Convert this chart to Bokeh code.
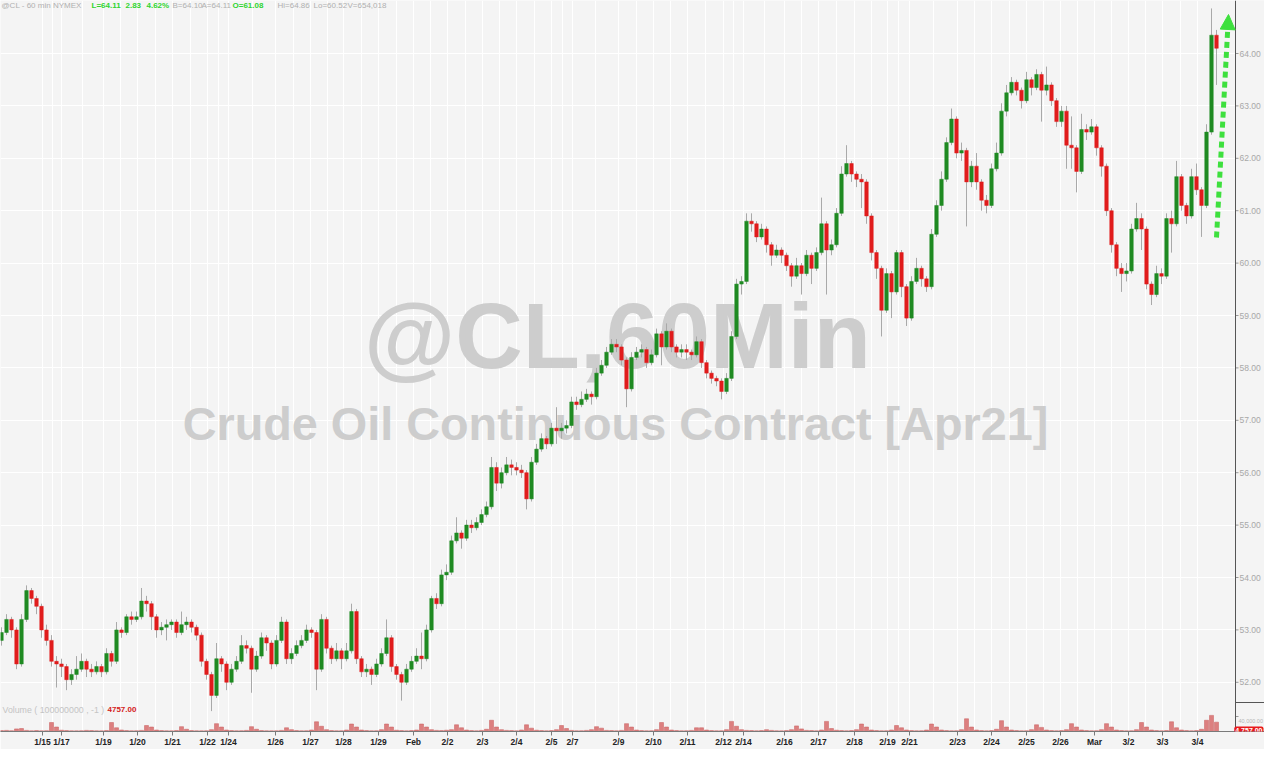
from bokeh.plotting import figure
from bokeh.models import (ColumnDataSource, Range1d, FixedTicker, CustomJSTickFormatter,
                          Label, Arrow, NormalHead, Span)
from bokeh.core.properties import value
from bokeh.embed import file_html
from bokeh.resources import INLINE

# ---------------- data ----------------
first_open = 52.8
close = [
    52.95, 53.2, 53.0, 52.35, 53.2, 53.75, 53.6, 53.45, 53.0, 52.8,
    52.4, 52.35, 52.3, 52.05, 52.15, 52.25, 52.4, 52.25, 52.2, 52.3,
    52.2, 52.55, 52.4, 53.0, 52.95, 53.25, 53.2, 53.25, 53.55, 53.5,
    53.25, 53.0, 53.05, 53.1, 53.15, 52.95, 53.1, 53.15, 53.05, 52.9,
    52.4, 52.15, 51.75, 52.45, 52.35, 52.0, 52.25, 52.4, 52.7, 52.65,
    52.25, 52.5, 52.85, 52.75, 52.35, 52.8, 53.15, 52.45, 52.55, 52.7,
    52.8, 53.0, 52.95, 52.25, 53.2, 52.65, 52.45, 52.6, 52.45, 52.6,
    53.35, 52.45, 52.2, 52.25, 52.15, 52.35, 52.55, 52.85, 52.3, 52.15,
    52.0, 52.25, 52.4, 52.5, 52.45, 53.0, 53.6, 53.5, 54.05, 54.1,
    54.7, 54.85, 54.75, 55.0, 54.95, 55.05, 55.2, 55.35, 56.1, 55.8,
    56.0, 56.15, 56.1, 56.05, 56.0, 55.5, 56.2, 56.45, 56.65, 56.55,
    56.85, 56.8, 56.85, 56.9, 57.35, 57.3, 57.4, 57.5, 57.45, 57.9,
    58.05, 58.3, 58.45, 58.4, 58.15, 57.6, 58.2, 58.3, 58.35, 58.1,
    58.25, 58.65, 58.4, 58.7, 58.4, 58.3, 58.35, 58.3, 58.25, 58.5,
    58.1, 57.9, 57.8, 57.75, 57.55, 57.8, 58.6, 59.6, 59.65, 60.8,
    60.75, 60.5, 60.65, 60.35, 60.15, 60.25, 60.15, 59.95, 59.75, 59.95,
    59.8, 60.15, 59.9, 60.2, 60.75, 60.25, 60.35, 60.95, 61.7, 61.9,
    61.7, 61.6, 61.55, 60.9, 60.2, 59.9, 59.1, 59.8, 59.45, 60.2,
    59.55, 58.95, 59.65, 59.9, 59.7, 59.55, 60.55, 61.1, 61.6, 62.3,
    62.75, 62.1, 62.15, 61.55, 61.85, 61.55, 61.2, 61.1, 61.8, 62.1,
    62.9, 63.25, 63.45, 63.3, 63.1, 63.5, 63.35, 63.6, 63.3, 63.4,
    63.1, 62.7, 62.9, 62.25, 62.2, 61.75, 62.55, 62.5, 62.6, 62.2,
    61.85, 61.0, 60.35, 59.9, 59.8, 59.85, 60.65, 60.85, 60.65, 59.6,
    59.4, 59.8, 59.75, 60.85, 60.75, 61.65, 61.1, 60.9, 61.65, 61.4,
    61.1, 62.5, 64.35, 64.1,
]
high = [
    53.05, 53.3, 53.25, 53.05, 53.3, 53.85, 53.8, 53.65, 53.5, 53.1,
    52.9, 52.5, 52.45, 52.35, 52.25, 52.5, 52.55, 52.45, 52.35, 52.4,
    52.35, 52.65, 52.6, 53.15, 53.05, 53.3, 53.35, 53.35, 53.8, 53.65,
    53.55, 53.3, 53.15, 53.2, 53.2, 53.2, 53.35, 53.25, 53.2, 53.1,
    52.95, 52.45, 52.2, 52.75, 52.5, 52.4, 52.35, 52.5, 52.9, 52.8,
    52.7, 52.6, 52.95, 52.9, 52.8, 52.9, 53.25, 53.2, 52.65, 52.8,
    52.9, 53.1, 53.05, 53.0, 53.3, 53.25, 52.7, 52.75, 52.65, 52.75,
    53.5, 53.4, 52.5, 52.35, 52.3, 52.45, 52.65, 53.2, 52.9, 52.35,
    52.2, 52.35, 52.5, 52.65, 52.95, 53.1, 53.65, 53.7, 54.15, 54.25,
    54.8, 55.15, 54.9, 55.1, 55.1, 55.15, 55.3, 55.45, 56.3, 56.2,
    56.1, 56.3, 56.25, 56.2, 56.15, 56.05, 56.3, 56.55, 56.75, 56.7,
    56.95, 57.25, 56.95, 57.0, 57.45, 57.45, 57.55, 57.6, 57.55, 58.0,
    58.15, 58.4, 58.55, 58.55, 58.45, 58.2, 58.3, 58.4, 58.45, 58.4,
    58.35, 58.75, 58.7, 58.85, 58.75, 58.45, 58.45, 58.45, 58.35, 58.6,
    58.55, 58.15, 57.95, 57.85, 57.8, 57.9, 58.7, 59.7, 59.75, 60.95,
    60.95, 60.8, 60.75, 60.7, 60.4, 60.35, 60.3, 60.2, 60.0, 60.1,
    60.0, 60.25, 60.2, 60.3, 61.25, 60.8, 60.45, 61.05, 61.85, 62.25,
    61.95, 61.75, 61.7, 61.6, 60.95, 60.25, 59.95, 59.9, 59.85, 60.25,
    60.25, 59.6, 59.75, 60.1, 59.95, 59.75, 60.65, 61.2, 61.75, 62.4,
    62.95, 62.8, 62.3, 62.2, 61.95, 62.1, 61.6, 61.3, 61.9, 62.3,
    63.05, 63.4, 63.55, 63.5, 63.35, 63.65, 63.55, 63.7, 63.65, 63.75,
    63.45, 63.15, 63.0, 63.0, 62.8, 62.25, 62.85, 62.65, 62.75, 62.65,
    62.25, 61.9, 61.05, 60.4, 60.0, 60.0, 60.75, 61.15, 60.95, 60.7,
    59.65, 59.95, 59.9, 60.95, 61.0, 61.95, 61.7, 61.15, 61.8, 61.9,
    61.45, 62.65, 64.86, 64.45,
]
low = [
    52.7, 52.9, 52.85, 52.25, 52.3, 53.15, 53.5, 53.3, 52.85, 52.7,
    52.3, 51.9, 52.1, 51.85, 51.95, 52.05, 52.2, 52.1, 52.1, 52.15,
    52.1, 52.15, 52.3, 52.35, 52.85, 52.9, 53.1, 53.15, 53.2, 53.35,
    53.0, 52.85, 52.9, 52.8, 53.0, 52.85, 52.9, 53.0, 52.95, 52.8,
    52.3, 52.05, 51.45, 51.7, 52.2, 51.85, 51.95, 52.2, 52.35, 52.55,
    51.8, 52.2, 52.45, 52.6, 52.25, 52.3, 52.75, 52.35, 52.35, 52.5,
    52.65, 52.75, 52.85, 51.85, 52.2, 52.55, 52.35, 52.4, 52.25, 52.4,
    52.55, 52.35, 52.1, 52.1, 51.95, 52.1, 52.3, 52.5, 52.2, 52.05,
    51.65, 51.95, 52.2, 52.35, 52.25, 52.4, 52.95, 53.4, 53.45, 53.95,
    54.05, 54.65, 54.55, 54.7, 54.85, 54.9, 55.0, 55.15, 55.3, 55.65,
    55.7, 55.95, 55.95, 55.95, 55.9, 55.3, 55.45, 56.15, 56.4, 56.45,
    56.5, 56.55, 56.65, 56.75, 56.85, 57.2, 57.25, 57.35, 57.3, 57.4,
    57.85, 58.0, 58.25, 58.3, 58.05, 57.25, 57.55, 58.15, 58.2, 58.0,
    58.05, 58.2, 58.05, 58.35, 58.3, 58.2, 58.2, 58.15, 58.15, 58.2,
    58.0, 57.8, 57.7, 57.65, 57.4, 57.5, 57.75, 58.55, 59.4, 59.6,
    60.6, 60.4, 60.45, 60.2, 59.95, 60.1, 60.0, 59.85, 59.55, 59.7,
    59.4, 59.75, 59.6, 59.85, 60.15, 59.4, 60.15, 60.3, 60.9, 61.65,
    61.55, 61.45, 61.05, 60.75, 60.05, 59.7, 58.6, 59.05, 58.95, 59.4,
    59.35, 58.8, 58.9, 59.6, 59.55, 59.45, 59.5, 60.5, 61.0, 61.55,
    62.25, 62.0, 61.95, 60.7, 61.45, 61.4, 61.0, 60.95, 61.05, 61.75,
    62.05, 62.8, 63.2, 63.2, 62.95, 63.05, 63.2, 63.3, 62.7, 63.2,
    63.0, 62.6, 62.6, 61.8, 61.8, 61.35, 61.7, 62.35, 62.45, 62.05,
    61.65, 60.9, 60.2, 59.75, 59.45, 59.65, 59.8, 60.6, 60.25, 59.5,
    59.2, 59.35, 59.6, 59.7, 60.2, 60.7, 61.0, 60.75, 60.85, 61.3,
    60.5, 61.05, 62.45, 63.4,
]
volume = [
    2500, 3000, 2200, 7000, 8000, 3000, 2000, 2500, 1800, 2200,
    24000, 12000, 3500, 2500, 2000, 1800, 2200, 3000, 2500, 2000,
    1800, 2500, 24000, 10000, 4000, 2500, 2000, 2200, 3000, 16000,
    12000, 4000, 2500, 2000, 1800, 2500, 13000, 6000, 2500, 2000,
    1800, 2200, 5000, 21000, 12000, 4000, 2500, 2000, 2200, 3000,
    13000, 6000, 2500, 2000, 1800, 2000, 3000, 10000, 5000, 2500,
    2000, 2200, 4000, 26000, 14000, 5000, 2500, 2000, 2200, 4000,
    20000, 12000, 4000, 2500, 2000, 2200, 5000, 20000, 12000, 3500,
    2500, 2000, 2500, 4000, 20000, 12000, 5000, 3000, 2500, 3500,
    5000, 18000, 10000, 4000, 2500, 2000, 3000, 6000, 30000, 12000,
    5000, 3000, 2500, 2000, 4000, 18000, 9000, 3500, 2500, 2000,
    2500, 5000, 16000, 8000, 3000, 2000, 2200, 3000, 5000, 13000,
    9000, 3000, 2500, 2000, 3000, 21000, 12000, 4000, 2500, 2000,
    2200, 5000, 24000, 12000, 4000, 2500, 2000, 2200, 3000, 10000,
    10000, 4000, 2500, 2000, 2200, 5000, 27000, 14000, 5000, 3000,
    2500, 2000, 2500, 5000, 3000, 2000, 1800, 2500, 5000, 15000,
    7000, 3000, 2500, 2000, 4000, 27000, 8000, 3500, 2500, 2000,
    2500, 5000, 20000, 12000, 4000, 2500, 2000, 2200, 4000, 16000,
    10000, 4000, 2500, 2000, 2200, 4000, 20000, 12000, 4000, 2500,
    2000, 2200, 5000, 34000, 12000, 4000, 2500, 2000, 2500, 6000,
    29000, 12000, 4000, 2500, 2000, 2200, 5000, 18000, 11000, 4000,
    2500, 2000, 2500, 5000, 21000, 12000, 4000, 2500, 2000, 2200,
    5000, 21000, 12000, 4000, 2500, 2000, 2200, 5000, 24000, 12000,
    4000, 2500, 2000, 2500, 26000, 10000, 4000, 2500, 2000, 2500,
    6000, 30000, 43000, 25000,
]
tick_labels = ["1/15", "1/17", "1/19", "1/20", "1/21", "1/22", "1/24", "1/26", "1/27", "1/28",
               "1/29", "Feb", "2/2", "2/3", "2/4", "2/5", "2/7", "2/9", "2/10", "2/11",
               "2/12", "2/14", "2/16", "2/17", "2/18", "2/19", "2/21", "2/23", "2/24", "2/25",
               "2/26", "Mar", "3/2", "3/3", "3/4"]
tick_at = [8.2, 12.0, 20.4, 27.2, 34.2, 41.2, 45.4, 54.8, 61.8, 68.4,
           75.4, 82.4, 89.2, 96.2, 103.0, 110.0, 114.2, 123.4, 130.4, 137.2,
           144.4, 148.4, 156.6, 163.4, 170.6, 177.2, 181.6, 191.2, 198.0, 205.0,
           211.8, 218.6, 225.4, 232.2, 239.2]
price_ticks = [52, 53, 54, 55, 56, 57, 58, 59, 60, 61, 62, 63, 64]

# ---------------- derived ----------------
n = len(close)
opens = [first_open] + close[:-1]
xs = list(range(n))
body_top = [max(o, c) for o, c in zip(opens, close)]
body_bot = [min(o, c) for o, c in zip(opens, close)]
colors = ["#1f8a22" if c >= o else "#e01c1c" for o, c in zip(opens, close)]
src = ColumnDataSource(dict(x=xs, h=high, l=low, top=body_top, bot=body_bot,
                            color=colors, v=volume))


def X(rx):  # layout pixel -> bar index
    return (rx - 1) / 5.0


def Y(ry):  # layout pixel -> price
    return 64.0 - (ry - 53) / 52.4


FONT = "Liberation Sans"
BG = "#f4f4f4"
W, H = 1264, 731        # frame size (x axis goes below)
AX = 1235               # position of the price scale line

p = figure(frame_width=W, frame_height=H,
           x_range=Range1d(X(0), X(W)), y_range=Range1d(Y(H), Y(0)),
           y_axis_location=None, output_backend="svg", toolbar_location=None,
           min_border_left=0, min_border_top=0, min_border_right=0, min_border_bottom=0,
           background_fill_color=BG, border_fill_color=BG)
p.outline_line_color = None
p.extra_y_ranges = {"vol": Range1d(0, 40000 * H / 15)}

# watermark
p.add_layout(Label(x=X(617), y=Y(335), text="@CL,60Min", text_align="center",
                   text_baseline="middle", text_font=FONT, text_font_size="93.5px",
                   text_font_style="bold", text_color="#cdcdcd", level="underlay"))
p.add_layout(Label(x=X(615), y=Y(423), text="Crude Oil Continuous Contract [Apr21]",
                   text_align="center", text_baseline="middle", text_font=FONT,
                   text_font_size="46.8px", text_font_style="bold", text_color="#cdcdcd",
                   level="underlay"))

# price-scale strip on the right
p.quad(left=X(AX), right=X(W), bottom=Y(H), top=Y(0), fill_color=BG, line_color=None)

# volume
p.vbar(x="x", width=0.8, top="v", bottom=0, y_range_name="vol", source=src,
       fill_color="#dc7f7f", line_color="#c95c5c", line_width=0.5)

# candles
p.segment(x0="x", y0="h", x1="x", y1="l", source=src, line_color="#a9a9a9", line_width=1)
p.vbar(x="x", width=0.7, top="top", bottom="bot", source=src,
       fill_color="color", line_color="color", line_width=0.5)

# price scale (drawn on the right)
psrc = ColumnDataSource(dict(y=price_ticks, txt=["%.2f" % t for t in price_ticks]))
p.add_layout(Span(location=X(AX), dimension="height", line_color="#555555", line_width=1))
p.segment(x0=X(AX), x1=X(AX + 3), y0="y", y1="y", source=psrc, line_color="#999999")
p.text(x=X(AX + 4), y="y", text="txt", source=psrc, text_font=value(FONT),
       text_font_size="8.5px", text_color="#a8a8a8", text_baseline="middle", text_align="left")
p.segment(x0=[X(AX)], x1=[X(W)], y0=[Y(702)], y1=[Y(702)], line_color="#555555")
p.segment(x0=[X(AX)], x1=[X(AX + 3)], y0=[Y(716)], y1=[Y(716)], line_color="#999999")
p.text(x=[X(AX + 3)], y=[Y(720)], text=["40,000.00"], text_font=value(FONT),
       text_font_size="5.5px", text_color="#b5b5b5", text_baseline="middle", text_align="left")
p.add_layout(Label(x=X(W - 1), y=Y(729.5), text="4,757.00", text_align="right",
                   text_baseline="middle", text_font=FONT, text_font_size="7px",
                   text_font_style="bold", text_color="#ffffff",
                   background_fill_color="#e8191c", padding=1, border_radius=2))

# x axis
p.xaxis.ticker = FixedTicker(ticks=tick_at)
p.xaxis.formatter = CustomJSTickFormatter(args=dict(pos=tick_at, labs=tick_labels),
                                          code="const i = pos.indexOf(tick); return i < 0 ? '' : labs[i];")
p.xaxis.major_label_text_font = FONT
p.xaxis.major_label_text_font_size = "8.5px"
p.xaxis.major_label_text_font_style = "bold"
p.xaxis.major_label_text_color = "#222222"
p.xaxis.major_label_standoff = 1
p.xaxis.major_tick_out = 4
p.xaxis.major_tick_in = 0
p.xaxis.minor_tick_out = 0
p.xaxis.minor_tick_in = 0
p.xaxis.axis_line_color = "#7a7a7a"
p.xaxis.major_tick_line_color = "#7a7a7a"

grid_at = sorted(tick_at + [(a + b) / 2 for a, b in zip(tick_at[:-1], tick_at[1:])])
p.xgrid.ticker = FixedTicker(ticks=grid_at)
p.ygrid.ticker = FixedTicker(ticks=price_ticks)
p.grid.grid_line_color = "#ffffff"
p.grid.grid_line_width = 1

# header line
header = [
    (1, "@CL - 60 min  NYMEX", "#b0b0b0", "normal"),
    (91, "L=64.11", "#2fd42f", "bold"),
    (125, "2.83", "#2fd42f", "bold"),
    (146, "4.62%", "#2fd42f", "bold"),
    (172, "B=64.10", "#b0b0b0", "normal"),
    (201, "A=64.11", "#b0b0b0", "normal"),
    (232, "O=61.08", "#2fd42f", "bold"),
    (277, "Hi=64.86", "#b0b0b0", "normal"),
    (313, "Lo=60.52", "#b0b0b0", "normal"),
    (347, "V=654,018", "#b0b0b0", "normal"),
]
for rx, txt, col, sty in header:
    p.add_layout(Label(x=X(rx), y=Y(5), text=txt, text_align="left", text_baseline="middle",
                       text_font=FONT, text_font_size="8px", text_font_style=sty,
                       text_color=col))

# volume caption
p.add_layout(Label(x=X(2), y=Y(709), text="Volume ( 100000000 , -1 )", text_align="left",
                   text_baseline="middle", text_font=FONT, text_font_size="8.8px",
                   text_color="#c4c4c4"))
p.add_layout(Label(x=X(107), y=Y(709), text="4757.00", text_align="left",
                   text_baseline="middle", text_font=FONT, text_font_size="8px",
                   text_font_style="bold", text_color="#d42020"))

# green dashed arrow
p.add_layout(Arrow(end=NormalHead(size=15, fill_color="#3ee03e", line_color="#3ee03e"),
                   x_start=X(1216), y_start=Y(237), x_end=X(1228), y_end=Y(14),
                   line_color="#3ee03e", line_width=5, line_dash="6 4"))

open("out.html", "w").write(file_html(p, INLINE))
